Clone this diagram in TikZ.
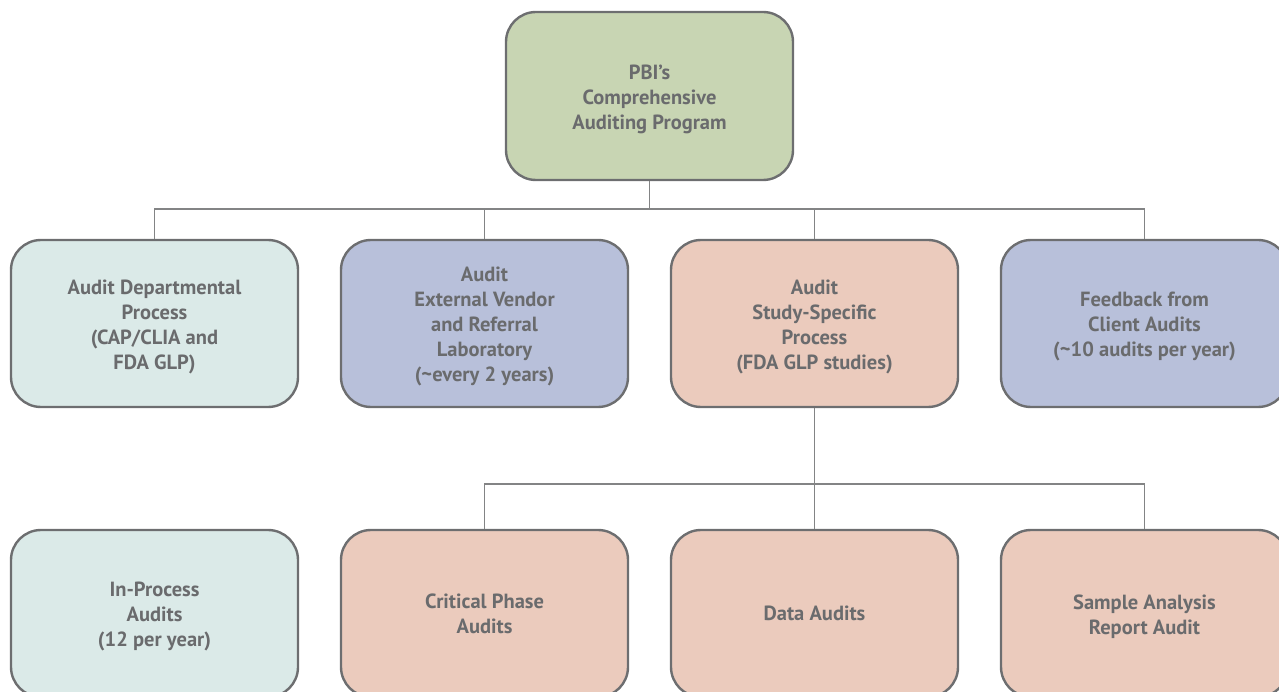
\documentclass[tikz,border=0pt]{standalone}
\usepackage{fontspec}
\setmainfont{PT Sans}
\definecolor{boxline}{HTML}{6D6E70}
\definecolor{txt}{HTML}{6A6B6D}
\definecolor{cgreen}{HTML}{C8D5B3}
\definecolor{cteal}{HTML}{DBEAE8}
\definecolor{cblue}{HTML}{B8C0DA}
\definecolor{csalmon}{HTML}{EBCBBD}
\newcommand\toplift{\rule{0pt}{21pt}}
\tikzset{
  box/.style={draw=boxline, line width=2.4pt, rounded corners=30pt,
    minimum width=287pt, minimum height=167pt, align=center,
    text=txt, font=\bfseries\fontsize{20.5}{25}\selectfont, inner sep=0pt},
  conn/.style={draw=boxline!85, line width=1.3pt},
}
\begin{document}
\begin{tikzpicture}[x=1pt,y=-1pt]
\useasboundingbox (0,0) rectangle (1279,692);
\clip (0,0) rectangle (1279,692);
\node[box, fill=cgreen, minimum height=168pt] (top) at (649.5,96) {\toplift PBI’s\\Comprehensive\\Auditing Program};
\node[box, fill=cteal] (dep) at (154.5,323.5) {\toplift Audit Departmental\\Process\\(CAP/CLIA and\\FDA GLP)};
\node[box, fill=cblue] (ext) at (484.5,323.5) {\toplift Audit\\External Vendor\\and Referral\\Laboratory\\(\textasciitilde every 2 years)};
\node[box, fill=csalmon] (study) at (814.5,323.5) {\toplift Audit\\Study-Specific\\Process\\(FDA GLP studies)};
\node[box, fill=cblue] (feed) at (1144.5,323.5) {\toplift Feedback from\\Client Audits\\(\textasciitilde10 audits per year)};
\node[box, fill=cteal] (inproc) at (154.5,613.5) {\toplift In-Process\\Audits\\(12 per year)};
\node[box, fill=csalmon] (crit) at (484.5,613.5) {Critical Phase\\Audits};
\node[box, fill=csalmon] (data) at (814.5,613.5) {Data Audits};
\node[box, fill=csalmon] (sample) at (1144.5,613.5) {\toplift Sample Analysis\\Report Audit};
\coordinate (bus1) at (649.5,209);
\coordinate (bus2) at (814.5,484);
\draw[conn] (top.south) -- (bus1);
\draw[conn] (dep.north) |- (bus1) -| (feed.north);
\draw[conn] (ext.north) -- (ext.north |- bus1);
\draw[conn] (study.north) -- (study.north |- bus1);
\draw[conn] (study.south) -- (data.north);
\draw[conn] (crit.north) |- (bus2) -| (sample.north);
\end{tikzpicture}
\end{document}
